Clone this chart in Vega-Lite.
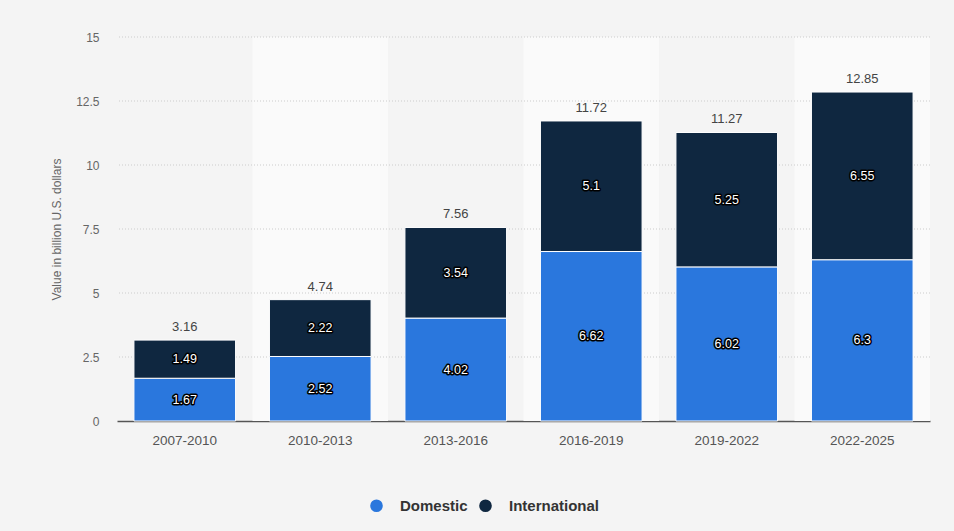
{
  "$schema": "https://vega.github.io/schema/vega-lite/v6.json",
  "autosize": "none",
  "width": 813,
  "height": 384,
  "padding": {"left": 117, "top": 37, "right": 24, "bottom": 110},
  "background": "#f4f4f4",
  "config": {
    "view": {"stroke": null, "fill": "#f4f4f4"},
    "font": "Liberation Sans",
    "axisX": {
      "title": null,
      "labelAngle": 0,
      "ticks": false,
      "domainColor": "#555555",
      "domainWidth": 1.5,
      "labelPadding": 12,
      "labelFontSize": 13.5,
      "labelColor": "#555555"
    }
  },
  "datasets": {
    "values": [
      {"period": "2007-2010", "type": "Domestic", "value": 1.67},
      {"period": "2007-2010", "type": "International", "value": 1.49},
      {"period": "2010-2013", "type": "Domestic", "value": 2.52},
      {"period": "2010-2013", "type": "International", "value": 2.22},
      {"period": "2013-2016", "type": "Domestic", "value": 4.02},
      {"period": "2013-2016", "type": "International", "value": 3.54},
      {"period": "2016-2019", "type": "Domestic", "value": 6.62},
      {"period": "2016-2019", "type": "International", "value": 5.1},
      {"period": "2019-2022", "type": "Domestic", "value": 6.02},
      {"period": "2019-2022", "type": "International", "value": 5.25},
      {"period": "2022-2025", "type": "Domestic", "value": 6.3},
      {"period": "2022-2025", "type": "International", "value": 6.55}
    ],
    "bands": [
      {"period": "2010-2013"},
      {"period": "2016-2019"},
      {"period": "2022-2025"}
    ],
    "grid": [
      {"tick": 2.5}, {"tick": 5}, {"tick": 7.5}, {"tick": 10}, {"tick": 12.5}, {"tick": 15}
    ]
  },
  "layer": [
    {
      "data": {"name": "bands"},
      "mark": {"type": "bar", "color": "#fafafa", "width": {"band": 1}},
      "encoding": {
        "x": {
          "field": "period", "type": "nominal", "title": null,
          "scale": {"domain": ["2007-2010", "2010-2013", "2013-2016", "2016-2019", "2019-2022", "2022-2025"], "paddingInner": 0, "paddingOuter": 0}
        },
        "y": {"datum": 15, "type": "quantitative", "scale": {"domain": [0, 15], "nice": false}},
        "y2": {"datum": 0}
      }
    },
    {
      "data": {"name": "grid"},
      "mark": {"type": "rule", "color": "#cccccc", "strokeDash": [1, 2], "strokeWidth": 1},
      "encoding": {
        "y": {"field": "tick", "type": "quantitative"}
      }
    },
    {
      "data": {"name": "values"},
      "mark": {"type": "bar", "width": {"band": 0.75}, "stroke": "#ffffff", "strokeWidth": 1},
      "encoding": {
        "x": {"field": "period", "type": "nominal", "title": null},
        "y": {
          "field": "value",
          "type": "quantitative",
          "stack": "zero",
          "scale": {"domain": [0, 15], "nice": false},
          "axis": {
            "title": "Value in billion U.S. dollars",
            "values": [0, 2.5, 5, 7.5, 10, 12.5, 15],
            "format": ".1~f",
            "grid": false,
            "domain": false,
            "ticks": false,
            "labelPadding": 18,
            "labelFontSize": 12,
            "labelColor": "#666666",
            "titleFontSize": 12,
            "titleFontWeight": "normal",
            "titleColor": "#666666",
            "titlePadding": 12
          }
        },
        "order": {"field": "type", "sort": "ascending"},
        "color": {
          "field": "type",
          "type": "nominal",
          "scale": {"domain": ["Domestic", "International"], "range": ["#2a77dd", "#0f2740"]},
          "legend": {
            "title": null,
            "orient": "none",
            "direction": "horizontal",
            "legendX": 252,
            "legendY": 461,
            "symbolType": "circle",
            "symbolSize": 160,
            "symbolStrokeWidth": 0,
            "labelFontSize": 15,
            "labelFontWeight": "bold",
            "labelColor": "#333333",
            "labelOffset": 16,
            "columnPadding": 10
          }
        }
      }
    },
    {
      "data": {"name": "values"},
      "transform": [
        {"stack": "value", "groupby": ["period"], "sort": [{"field": "type"}], "as": ["v0", "v1"]},
        {"calculate": "(datum.v0 + datum.v1) / 2", "as": "mid"}
      ],
      "mark": {"type": "text", "fontSize": 12.5, "stroke": "#000000", "strokeWidth": 3, "strokeJoin": "round", "fill": "#000000"},
      "encoding": {
        "x": {"field": "period", "type": "nominal", "title": null},
        "y": {"field": "mid", "type": "quantitative"},
        "text": {"field": "value", "type": "quantitative"}
      }
    },
    {
      "data": {"name": "values"},
      "transform": [
        {"stack": "value", "groupby": ["period"], "sort": [{"field": "type"}], "as": ["v0", "v1"]},
        {"calculate": "(datum.v0 + datum.v1) / 2", "as": "mid"}
      ],
      "mark": {"type": "text", "fontSize": 12.5, "fill": "#ffffff"},
      "encoding": {
        "x": {"field": "period", "type": "nominal", "title": null},
        "y": {"field": "mid", "type": "quantitative"},
        "text": {"field": "value", "type": "quantitative"}
      }
    },
    {
      "data": {"name": "values"},
      "transform": [
        {"aggregate": [{"op": "sum", "field": "value", "as": "total"}], "groupby": ["period"]}
      ],
      "mark": {"type": "text", "fontSize": 13, "color": "#444444", "baseline": "bottom", "dy": -6},
      "encoding": {
        "x": {"field": "period", "type": "nominal", "title": null},
        "y": {"field": "total", "type": "quantitative"},
        "text": {"field": "total", "type": "quantitative", "format": ".2f"}
      }
    }
  ]
}
